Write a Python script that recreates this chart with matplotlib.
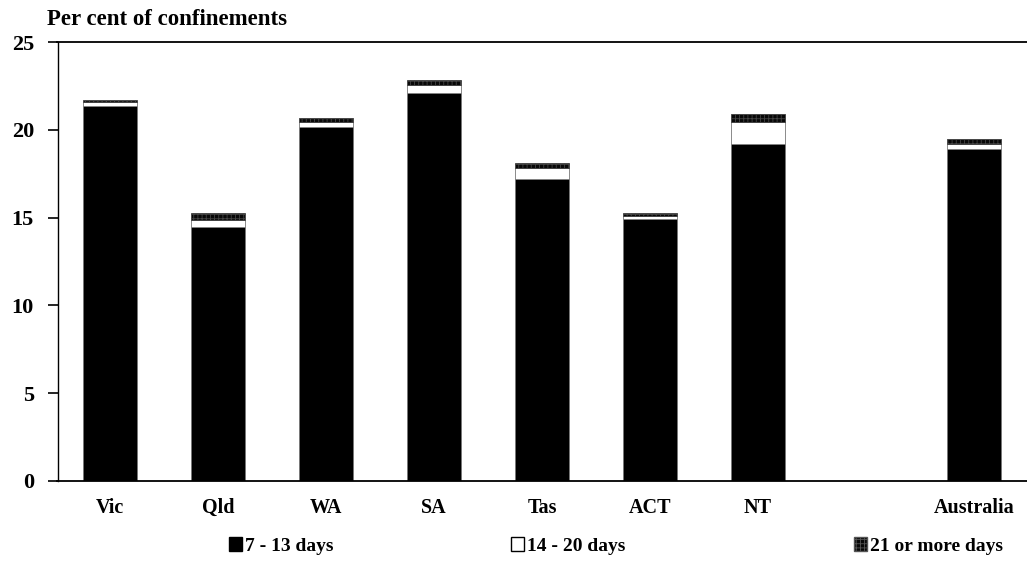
import numpy as np
import matplotlib.pyplot as plt
from matplotlib.patches import Patch

plt.rcParams['font.family'] = ['Liberation Serif', 'DejaVu Serif']
plt.rcParams['font.weight'] = 'bold'
plt.rcParams['hatch.linewidth'] = 0.6
plt.rcParams['hatch.color'] = '#444444'

# Data (per cent of confinements)
states = ['Vic', 'Qld', 'WA', 'SA', 'Tas', 'ACT', 'NT', '', 'Australia']
days_7_13 = [21.35, 14.45, 20.15, 22.1, 17.2, 14.9, 19.2, 0, 18.9]
days_14_20 = [0.25, 0.4, 0.3, 0.45, 0.6, 0.17, 1.25, 0, 0.3]
days_21_plus = [0.07, 0.4, 0.2, 0.28, 0.3, 0.19, 0.45, 0, 0.3]
legend_labels = ['7 - 13 days', '14 - 20 days', '21 or more days']

fig = plt.figure(figsize=(10.27, 5.70), dpi=100)
ax = fig.add_axes([57.5 / 1027, 1 - 481 / 570, 1 - 57.5 / 1027, (481 - 42) / 570])

x = np.arange(len(states))
a = np.array(days_7_13)
b = np.array(days_14_20)
c = np.array(days_21_plus)
w = 0.5
ax.bar(x, a, w, color='black', edgecolor='#777777', linewidth=0.6)
ax.bar(x, b, w, bottom=a, color='white', edgecolor='#777777', linewidth=0.6)
ax.bar(x, c, w, bottom=a + b, color='#080808', edgecolor='#444444',
       hatch='++++', linewidth=0.6)

ax.set_xlim(-0.486, 8.49)
ax.set_ylim(0, 25)
ax.set_yticks([0, 5, 10, 15, 20, 25])
ax.set_xticks(x)
ax.set_xticklabels(states)
ax.tick_params(axis='y', length=7, width=1.2, labelsize=16, pad=10)
ax.tick_params(axis='x', length=0, labelsize=14.5, pad=12)
for s in ['left', 'top', 'bottom']:
    ax.spines[s].set_linewidth(1.3)
    ax.spines[s].set_color('black')
ax.spines['right'].set_visible(False)
ax.spines['left'].set_linewidth(1.0)

fig.text(47 / 1027, 1 - 25 / 570, 'Per cent of confinements', fontsize=16.5,
         fontweight='bold', va='baseline')

# legend entries spread along the bottom
handles = [Patch(facecolor='black', edgecolor='black'),
           Patch(facecolor='white', edgecolor='black'),
           Patch(facecolor='#080808', edgecolor='#555555', hatch='++++')]
for h, lab, xp in zip(handles, legend_labels, [219, 501, 844]):
    fig.legend([h], [lab], loc='center left', bbox_to_anchor=(xp / 1027, 1 - 546 / 570),
               frameon=False, handlelength=0.7, handleheight=0.7,
               handletextpad=0.15, fontsize=14, borderpad=0)

fig.savefig('out.png', dpi=100)
